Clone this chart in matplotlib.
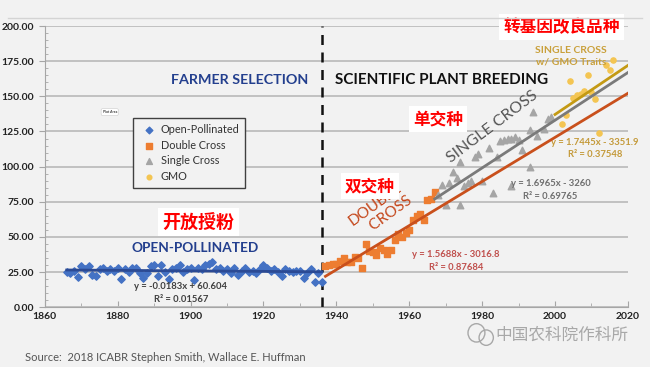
import matplotlib.pyplot as plt
import numpy as np
from matplotlib.patches import Ellipse

plt.rcParams['font.family'] = ['Lato', 'DejaVu Sans']

# open-pollinated yields 1866-1936
op_years = list(range(1866, 1937))
op_vals = [25, 24, 26, 21.5, 29, 27, 29, 23, 22, 27, 28, 26, 27, 26, 28, 20, 27, 25, 28, 28,
           24, 21, 24, 29, 30, 22, 30, 25, 20, 27, 28, 30, 25, 27, 28, 19, 28, 27, 30, 31,
           32, 27, 28, 26, 27, 24, 28, 23, 26, 28, 25, 26, 24, 27, 30, 28, 26, 27, 25, 22,
           27, 26, 25, 26, 26, 21, 24, 27, 18, 24, 18]

# double cross 1937-1967
dc_years = list(range(1937, 1968))
dc_vals = [29, 30, 31, 31, 33, 35, 32, 32, 36, 35, 28, 45, 40, 39, 37, 42, 41, 38, 41, 48,
           52, 50, 53, 55, 62, 65, 66, 62, 76, 77, 82]

# single cross
sc_years = [1968, 1969, 1970, 1971, 1972, 1973, 1974, 1974, 1975, 1976, 1977, 1978, 1979, 1980,
            1982, 1983, 1984, 1985, 1986, 1987, 1988, 1988, 1989, 1990, 1991, 1993, 1993, 1994,
            1995, 1997, 1998, 1999]
sc_vals = [80, 87, 73, 88, 96, 92, 73, 103, 86, 88, 90, 107, 109, 90, 113, 81, 107, 118, 119,
           120, 120, 86, 121, 119, 112, 126, 100, 139, 122, 127, 134, 135]

# single cross with GMO traits
gmo_years = [2002, 2003, 2004, 2005, 2006, 2007, 2008, 2009, 2010, 2011, 2012, 2014, 2015, 2016]
gmo_vals = [130, 137, 161, 149, 151, 152, 154, 165, 153, 148, 124, 172, 169, 176]

# trend lines: (slope, intercept, start, end)
trends = {
    'op': (-0.0183, 60.604, 1866, 1936),
    'dc': (1.5688, -3016.8, 1937, 2020),
    'sc': (1.6965, -3260, 1967, 2020),
    'gmo': (1.7445, -3351.9, 2000, 2020),
}

bg = '#f2f2f2'
fig = plt.figure(figsize=(6.5, 3.67), dpi=100, facecolor=bg)
ax = fig.add_axes([0.069, 0.163, 0.897, 0.766], facecolor=bg)

fig.add_artist(plt.Line2D([0.012, 0.988], [0.951, 0.951], color='#d4d4d4', lw=1))

ax.set_xlim(1860, 2020)
ax.set_ylim(0, 200)
ax.set_yticks(np.arange(0, 201, 25))
ax.set_yticklabels([f'{v:.2f}' for v in np.arange(0, 201, 25)])
ax.set_xticks(range(1860, 2021, 20))
ax.set_xticks(range(1860, 2021, 10), minor=True)
ax.set_yticks(np.arange(0, 201, 5), minor=True)
ax.yaxis.grid(True, color='#bdbdbd', lw=1.3)
ax.set_axisbelow(True)
for s in ['top', 'right']:
    ax.spines[s].set_visible(False)
for s in ['left', 'bottom']:
    ax.spines[s].set_color('#a6a6a6')
ax.tick_params(axis='both', which='both', color='#a6a6a6', labelsize=7.5, labelcolor='#222222')
ax.tick_params(axis='y', which='major', length=4, direction='out')
ax.tick_params(axis='y', which='minor', length=2, direction='in')
ax.tick_params(axis='x', which='major', length=4, direction='in')
ax.tick_params(axis='x', which='minor', length=3, direction='in')
for lab in ax.get_xticklabels() + ax.get_yticklabels():
    lab.set_fontweight('bold')

ax.axvline(1936, color='#111111', lw=1.8, ls=(0, (4, 3)), zorder=2)

h1 = ax.scatter(op_years, op_vals, marker='D', s=14, color='#4472c4', zorder=3, label='Open-Pollinated')
h2 = ax.scatter(dc_years, dc_vals, marker='s', s=22, color='#ed7d31', zorder=3, label='Double Cross')
h3 = ax.scatter(sc_years, sc_vals, marker='^', s=22, color='#a5a5a5', zorder=3, label='Single Cross')
h4 = ax.scatter(gmo_years, gmo_vals, marker='o', s=14, color='#f4c552', zorder=3, label='GMO')

colors = {'op': '#2b4a94', 'dc': '#c9501c', 'sc': '#7a7a7a', 'gmo': '#c49a14'}
for k, (m, b, x0, x1) in trends.items():
    xs = np.array([x0, x1])
    ax.plot(xs, m * xs + b, color=colors[k], lw=2, zorder=4)

leg = ax.legend(handles=[h1, h2, h3, h4], loc='upper left', bbox_to_anchor=(0.151, 0.672),
                fontsize=7.8, frameon=True, fancybox=False, edgecolor='#404040',
                facecolor=bg, framealpha=1, handletextpad=0.1, labelspacing=0.42,
                borderpad=0.55, borderaxespad=0, handlelength=1.9, markerscale=0.9)
leg.get_frame().set_linewidth(1)
for t in leg.get_texts():
    t.set_color('#333333')

ax.text(1877.8, 138.8, 'Plot Area', fontsize=2.5, ha='center', va='center',
        bbox=dict(boxstyle='round,pad=0.4', fc='white', ec='#cccccc', lw=0.4))

# era labels
ax.text(1913.5, 161.6, 'FARMER SELECTION', fontsize=10.3, fontweight='bold',
        color='#233f8e', ha='center', va='center')
ax.text(1939.6, 161.6, 'SCIENTIFIC PLANT BREEDING', fontsize=11, fontweight='bold',
        color='#111111', ha='left', va='center')
ax.text(1901.2, 42, 'OPEN-POLLINATED', fontsize=9.8, fontweight='bold',
        color='#233f8e', ha='center', va='center')
ax.text(1952, 68, 'DOUBLE\n    CROSS', fontsize=11, color='#c4461a', ha='center',
        va='center', rotation=36, linespacing=1.25)
ax.text(1982.9, 128.5, 'SINGLE CROSS', fontsize=11.5, color='#555555', ha='center',
        va='center', rotation=37)
ax.text(2004.3, 178.6, 'SINGLE CROSS\nw/ GMO Traits', fontsize=7.5, fontweight='bold',
        color='#c9a03a', ha='center', va='center', linespacing=1.4)

# chinese labels
cjk = ['Noto Sans CJK SC', 'DejaVu Sans']
box = dict(boxstyle='square,pad=0.25', fc='white', ec='none')
ax.text(1902.2, 60.5, '开放授粉', fontsize=13, fontweight='bold', color='#ff0000',
        family=cjk, ha='center', va='center', bbox=box)
ax.text(1949.2, 86, '双交种', fontsize=12, fontweight='bold', color='#ff0000',
        family=cjk, ha='center', va='center', bbox=box)
ax.text(1967.8, 133.8, '单交种', fontsize=12, fontweight='bold', color='#ff0000',
        family=cjk, ha='center', va='center', bbox=box)
ax.text(2001.8, 199.3, '转基因改良品种', fontsize=12, fontweight='bold', color='#ff0000',
        family=cjk, ha='center', va='center', bbox=box, clip_on=False)

# trend equations
eq_kw = dict(fontsize=6.8, fontweight='bold', ha='center', va='center', linespacing=1.5)
ax.text(1897.3, 10, 'y = -0.0183x + 60.604\nR² = 0.01567', color='#404040', **eq_kw)
ax.text(1972.8, 32.7, 'y = 1.5688x - 3016.8\nR² = 0.87684', color='#c0504d', **eq_kw)
ax.text(1998.8, 83.3, 'y = 1.6965x - 3260\nR² = 0.69765', color='#6f6f6f', **eq_kw)
ax.text(2010.9, 113, 'y = 1.7445x - 3351.9\nR² = 0.37548', color='#c49a3a', **eq_kw)

fig.text(0.038, 0.027, 'Source:  2018 ICABR Stephen Smith, Wallace E. Huffman',
         fontsize=8, color='#555555', ha='left', va='center')

# watermark
fig.text(0.966, 0.087, '中国农科院作科所', fontsize=12, color='#a8a8a8',
         family=cjk, ha='right', va='center')
fig.add_artist(Ellipse((0.733, 0.093), 0.026, 0.05, fill=False, ec='#a8a8a8', lw=1,
                       transform=fig.transFigure))
fig.add_artist(Ellipse((0.748, 0.080), 0.022, 0.042, fill=False, ec='#a8a8a8', lw=1,
                       transform=fig.transFigure))

fig.savefig('out.png', dpi=100, facecolor=bg)
